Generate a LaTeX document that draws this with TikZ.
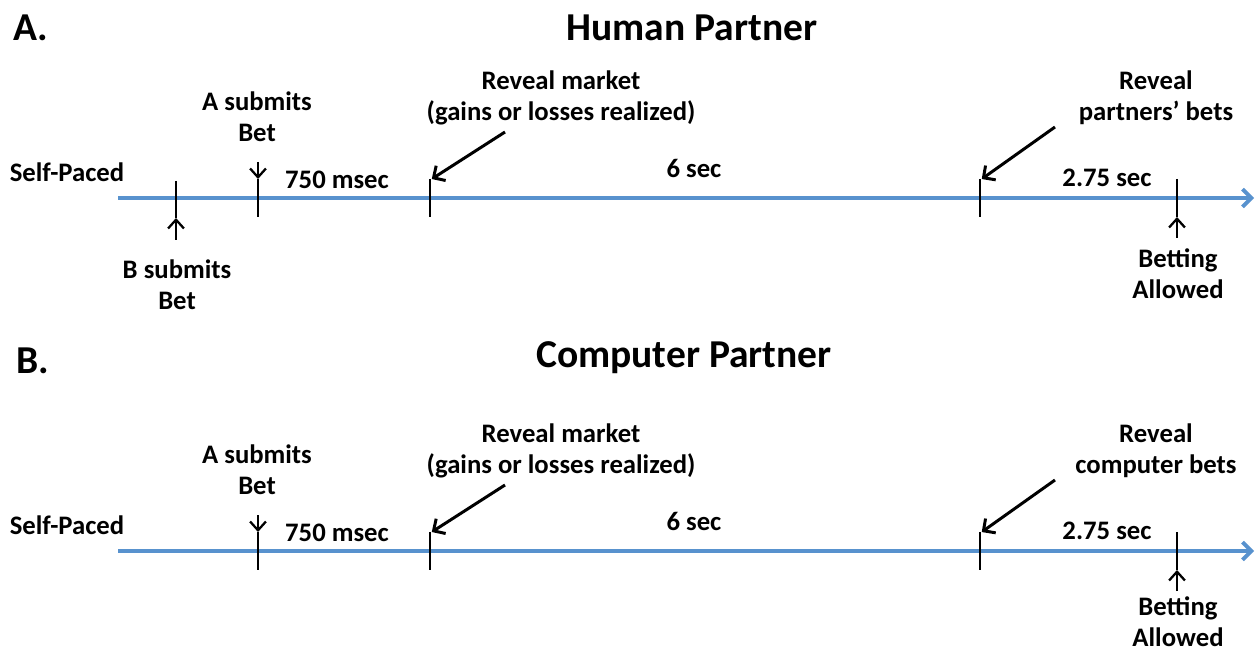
\documentclass[tikz,border=0pt]{standalone}
\usepackage{fontspec}
\setmainfont{Carlito}
\usetikzlibrary{arrows.meta}
\definecolor{lineblue}{RGB}{88,146,206}

\begin{document}
\begin{tikzpicture}[x=0.02cm, y=-0.02cm,
  lbl/.style={font=\bfseries\fontsize{15.2}{17.8}\selectfont, align=center, inner sep=0pt},
  ttl/.style={font=\bfseries\fontsize{22.5}{26}\selectfont, inner sep=0pt},
  timeline/.style={draw=lineblue, line width=2.2pt, -{Straight Barb[length=5pt,width=10pt]}},
  tickline/.style={line width=0.7pt},
  pointer/.style={line width=1.7pt, -{Straight Barb[length=5pt,width=10pt]}},
  smallptr/.style={line width=1.3pt, -{Straight Barb[length=5pt,width=9pt]}}]
\useasboundingbox (0,0) rectangle (1255,655);

% both panels share the axis, ticks and durations
\foreach \p/\dy/\ay in {a/0/274,b/353/622}
{
  \coordinate (start\p) at (118,198+\dy);
  \coordinate (end\p) at (1254,198+\dy);
  \draw[timeline] (start\p) -- (end\p);

  \foreach \x/\n in {258/1,430/2,980/3,1177/4}
  {
    \coordinate (top\p\n) at (\x,179+\dy);
    \coordinate (bot\p\n) at (\x,217+\dy);
    \draw[tickline] (top\p\n) -- (bot\p\n);
  }

  \node[lbl] (self\p) at (67,172+\dy) {Self-Paced};
  \node[lbl] (msec\p) at (337,180+\dy) {750 msec};
  \node[lbl] (six\p) at (694,168+\dy) {6 sec};
  \node[lbl] (last\p) at (1107,178+\dy) {2.75 sec};

  \node[lbl] (asub\p) at (257,117+\dy) {A submits\\Bet};
  \coordinate (afrom\p) at (258,162+\dy);
  \draw[smallptr] (afrom\p) -- (top\p1);

  \node[lbl] (market\p) at (561,98+\dy) {Reveal market\\(gains or losses realized)};
  \coordinate (mfrom\p) at (505,132+\dy);
  \draw[pointer] (mfrom\p) -- ([xshift=1pt]top\p2);

  \coordinate (rfrom\p) at (1055,127+\dy);
  \draw[pointer] (rfrom\p) -- ([xshift=1pt]top\p3);

  \node[lbl] (allow\p) at (1178,\ay) {Betting\\Allowed};
  \coordinate (bfrom\p) at (1177,238+\dy);
  \draw[smallptr] (bfrom\p) -- (bot\p4);
}

% panel A: human partner
\node[ttl] (tagA) at (31,28) {A.};
\node[ttl] (titleA) at (692,28) {Human Partner};
\node[lbl] (revealA) at (1156,98) {Reveal\\partners’ bets};
\coordinate (topB) at (176,181);
\coordinate (botB) at (176,218);
\draw[tickline] (topB) -- (botB);
\coordinate (bsubfrom) at (176,240);
\draw[smallptr] (bsubfrom) -- (botB);
\node[lbl] (bsub) at (177,285) {B submits\\Bet};

% panel B: computer partner
\node[ttl] (tagB) at (33,361) {B.};
\node[ttl] (titleB) at (684,358) {Computer Partner};
\node[lbl] (revealB) at (1156,451) {Reveal\\computer bets};
\end{tikzpicture}
\end{document}
